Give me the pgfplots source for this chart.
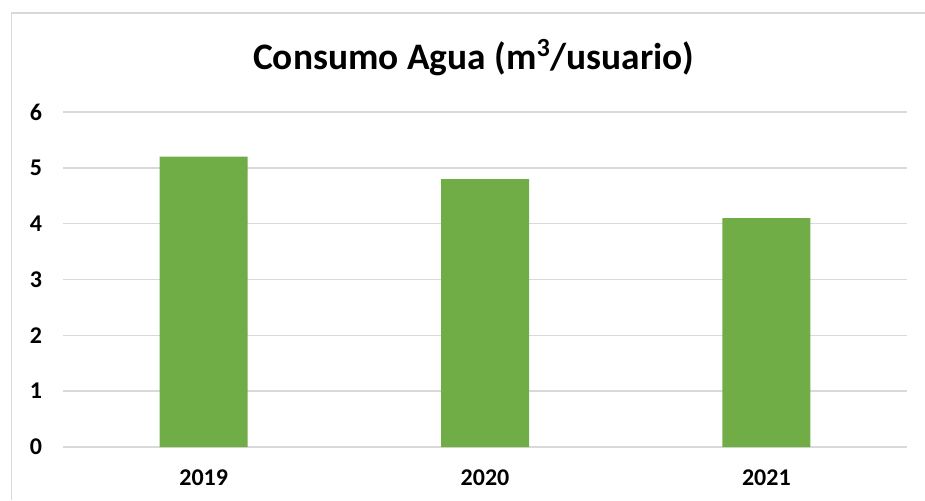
\documentclass[border=0pt]{standalone}
\usepackage{fontspec}
\setmainfont{Carlito}
\usepackage{pgfplots}
\pgfplotsset{compat=1.18}
\definecolor{barGreen}{HTML}{70AD47}
\definecolor{gridGray}{HTML}{D9D9D9}
\begin{document}
\begin{tikzpicture}
% image is 925x500 px, 1 px = 0.5 pt; plot box from (63,112) to (907,447) px
\begin{axis}[
    scale only axis,
    width=422pt, height=167.5pt,
    xmin=-0.5, xmax=2.5,
    ymin=0, ymax=6,
    ytick={0,1,...,6},
    xtick=data,
    xticklabels={2019,2020,2021},
    axis line style={draw=none},
    major tick length=0pt,
    ymajorgrids=true,
    grid style={gridGray, line width=0.75pt},
    tick label style={font=\bfseries\fontsize{12}{14}\selectfont},
    /pgf/number format/assume math mode=true,
    yticklabel style={xshift=-7pt},
    xticklabel style={yshift=-8pt},
    clip=false,
]
\addplot[ybar, bar width=44pt, fill=barGreen, draw=none] coordinates {
    (0,5.2) (1,4.8) (2,4.1)
};
\coordinate (O) at (rel axis cs:0,0);
\end{axis}
\pgfresetboundingbox
\begin{scope}[shift={(O)}, x=1pt, y=1pt]
\path[use as bounding box] (-31.5,-26.5) rectangle (431,223.5);
\draw[gridGray, line width=0.9pt] (-25.7,-26.5) -- (-25.7,217.2) -- (431,217.2);
\node[anchor=base, font=\bfseries\fontsize{18.7}{21}\selectfont] at (205.3,189)
  {Consumo Agua (m\textsuperscript{3}/usuario)};
\end{scope}
\end{tikzpicture}
\end{document}
